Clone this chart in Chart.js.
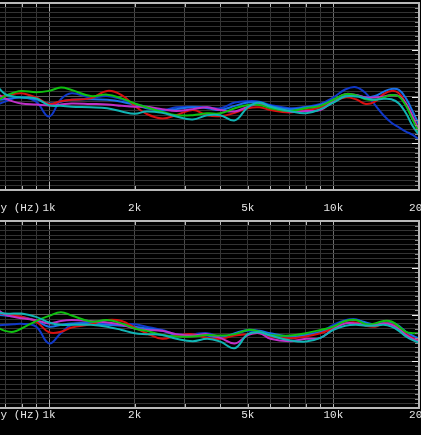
<!DOCTYPE html>
<html>
<head>
<meta charset="utf-8">
<script src="https://cdn.jsdelivr.net/npm/chart.js@4.4.0/dist/chart.umd.min.js"></script>
<style>
html, body { margin: 0; padding: 0; background: #000; width: 421px; height: 435px; overflow: hidden; }
.panel { position: absolute; left: -30px; width: 470px; }
#topPanel { top: 0; height: 235px; }
#bottomPanel { top: 218px; height: 217px; }
</style>
</head>
<body>
<div class="panel" id="topPanel"><canvas id="topChart"></canvas></div>
<div class="panel" id="bottomPanel"><canvas id="bottomChart"></canvas></div>
<script>
// =========================
// Data (dB, relative)
// =========================
const freqs = [650, 700, 750, 800, 900, 1000, 1100, 1200, 1400, 1600, 1800, 2000, 2200, 2500, 2800, 3200, 3600,
    4000, 4500, 5000, 5500, 6000, 7000, 8000, 9000, 10000, 11000, 12000, 13000, 14000, 15000, 16000, 17000, 18000, 19000, 20000];

const gridFreqs = [600, 700, 800, 900, 1000, 2000, 3000, 4000, 5000, 6000, 7000, 8000, 9000, 10000, 20000];
const tickLabels = { 1000: '1k', 2000: '2k', 5000: '5k', 10000: '10k', 20000: '20k' };
const axisTitle = 'Frequency (Hz)';

const topGreen   = [-1.1, 0.1, 0.8, 1.2, 0.9, 1.2, 1.9, 1.4, 0.1, 0.4, -0.4, -1.5, -2.3, -3.3, -4.0, -4.0, -3.6, -3.6, -2.5, -1.8, -1.8, -2.5, -3.1, -2.5, -2.0, -0.7, 0.5, 0.3, -0.6, -0.7, -0.2, 0.3, 0.0, -2.0, -5.0, -7.7];
const topRed     = [-0.4, 0.2, 0.5, 0.7, -0.2, -1.6, -1.0, -0.7, -0.4, 1.2, 0.3, -2.0, -3.7, -4.7, -4.0, -2.9, -4.0, -4.2, -3.5, -2.5, -2.3, -2.9, -3.4, -2.9, -2.3, -1.1, -0.2, -0.6, -1.6, -1.1, 0.5, 1.2, 0.7, -1.5, -4.3, -7.2];
const topBlue    = [-1.8, -1.1, -0.4, -0.1, -1.1, -4.3, -0.6, 0.7, -0.2, 0.1, -0.6, -1.6, -2.2, -2.9, -2.3, -2.2, -2.3, -2.5, -1.3, -1.0, -1.1, -1.8, -2.5, -2.2, -1.6, -0.2, 1.5, 2.0, 0.7, -1.8, -4.0, -5.6, -6.6, -7.5, -8.2, -9.2];
const topBlue2   = [-0.7, -0.6, -0.3, -0.2, -0.6, -1.5, -1.1, -0.7, -0.6, -0.7, -1.1, -1.8, -2.5, -3.0, -2.7, -2.3, -2.5, -2.9, -2.0, -1.3, -1.3, -2.0, -2.7, -2.3, -1.8, -0.7, 0.3, 0.3, -0.2, 0.1, 1.0, 1.6, 1.4, -0.4, -3.2, -6.1];
const topMagenta = [0.7, -0.4, -1.1, -1.5, -1.7, -1.9, -1.7, -1.5, -1.6, -1.7, -2.0, -2.2, -2.2, -2.7, -3.1, -2.7, -2.3, -2.9, -3.2, -2.2, -1.6, -2.3, -3.2, -3.1, -2.9, -0.9, 0.5, 0.3, -0.2, -0.2, 0.0, 0.3, 0.1, -1.5, -4.3, -7.5];
const topCyan    = [2.5, 0.5, 0.0, -0.2, -0.4, -1.9, -2.0, -2.2, -2.3, -2.5, -3.2, -3.7, -3.2, -3.5, -4.3, -4.9, -4.0, -4.0, -5.1, -2.3, -1.3, -2.2, -3.1, -3.6, -2.7, -1.3, 0.0, 0.0, -0.4, -0.7, -0.5, -0.6, -1.5, -3.6, -6.3, -8.2];

const bottomGreen   = [-2.6, -3.5, -3.7, -3.0, -1.4, -0.3, 0.5, -0.2, -1.5, -1.2, -1.9, -3.0, -3.5, -4.4, -4.7, -4.7, -4.4, -4.5, -4.2, -3.3, -3.7, -4.4, -4.5, -4.0, -3.3, -2.6, -1.4, -1.2, -2.1, -1.9, -1.4, -1.5, -2.6, -3.7, -4.0, -4.0];
const bottomRed     = [0.5, 0.0, -0.2, -0.5, -1.5, -3.8, -3.7, -2.8, -2.1, -1.2, -1.4, -2.8, -4.0, -5.2, -4.5, -4.2, -5.0, -5.2, -4.5, -4.2, -4.0, -4.7, -5.1, -4.7, -4.0, -3.0, -1.9, -1.7, -2.4, -2.6, -1.9, -2.1, -3.0, -4.2, -5.0, -5.5];
const bottomBlue    = [-2.4, -2.2, -2.1, -2.0, -2.6, -6.2, -4.0, -2.2, -1.7, -2.1, -2.1, -2.1, -2.6, -3.3, -4.2, -4.2, -4.0, -4.7, -4.2, -3.5, -3.7, -4.2, -5.0, -4.2, -3.7, -2.2, -1.2, -1.0, -1.9, -2.1, -1.7, -1.9, -2.8, -3.8, -4.7, -5.1];
const bottomBlue2   = [-0.1, -0.2, -0.4, -0.5, -1.4, -2.6, -2.2, -1.9, -1.9, -2.2, -2.4, -2.6, -3.0, -3.5, -4.4, -4.5, -4.5, -5.0, -4.0, -3.3, -3.5, -4.0, -4.7, -4.4, -3.8, -2.6, -1.4, -1.2, -1.7, -2.2, -1.9, -1.7, -2.4, -3.7, -4.5, -5.2];
const bottomMagenta = [1.3, 0.0, -0.5, -0.8, -1.2, -1.9, -1.4, -1.2, -1.4, -1.7, -2.2, -3.0, -3.3, -3.5, -4.2, -4.5, -4.2, -5.0, -6.2, -4.4, -4.0, -5.2, -5.7, -5.2, -5.0, -3.1, -1.9, -1.9, -2.2, -2.2, -1.9, -2.2, -3.1, -4.4, -5.2, -5.7];
const bottomCyan    = [0.6, 0.2, 0.2, 0.2, -0.5, -1.7, -2.2, -2.2, -2.2, -2.6, -3.3, -4.0, -4.2, -4.4, -5.2, -5.7, -5.2, -5.8, -7.2, -4.2, -3.8, -4.5, -5.5, -5.8, -5.0, -3.3, -2.4, -2.2, -2.4, -2.4, -2.2, -2.6, -3.5, -4.7, -5.5, -6.0];

const yMin = -20, yMax = 20;

// =========================
// Helpers
// =========================
const colors = { cyan: '#10b4b4', green: '#10c010', magenta: '#c030c8', red: '#d81010', blue2: '#1870e8', blue: '#1038c8' };

function series(vals, color) {
    return {
        data: freqs.map((f, i) => ({ x: f, y: vals[i] })),
        borderColor: color,
        borderWidth: 2,
        pointRadius: 0,
        tension: 0.4,
        fill: false
    };
}

function xGridColor(ctx) {
    const v = ctx.tick && ctx.tick.value;
    if (v === 1000 || v === 10000) return '#6a6a6a';
    if (v === 2000 || v === 3000) return '#4a4a4a';
    return '#343434';
}

function yGridColor(ctx) {
    const v = ctx.tick && ctx.tick.value;
    if (v === 10 || v === -10 || v === 0) return '#606060';
    return '#333333';
}

// Frame, inner ticks and axis title
const framePlugin = {
    id: 'frame',
    afterDatasetsDraw(chart) {
        const { ctx, chartArea: a, scales: { x, y } } = chart;
        ctx.save();
        ctx.lineWidth = 1;
        ctx.strokeStyle = '#b8b8b8';
        gridFreqs.forEach(f => {
            const px = Math.round(x.getPixelForValue(f)) + 0.5;
            const len = f === 1000 ? 8 : 4;
            ctx.beginPath();
            ctx.moveTo(px, a.top); ctx.lineTo(px, a.top + len);
            ctx.moveTo(px, a.bottom); ctx.lineTo(px, a.bottom - len);
            ctx.stroke();
        });
        for (let v = yMin; v <= yMax; v++) {
            const py = Math.round(y.getPixelForValue(v)) + 0.5;
            const major = v % 10 === 0;
            ctx.strokeStyle = major ? '#f0f0f0' : '#8c8c8c';
            ctx.beginPath();
            ctx.moveTo(a.right, py); ctx.lineTo(a.right - (major ? 7 : 4), py);
            ctx.stroke();
        }
        ctx.strokeStyle = '#b8b8b8';
        ctx.lineWidth = 2;
        ctx.beginPath();
        ctx.moveTo(a.left, a.top); ctx.lineTo(a.right, a.top);
        ctx.lineTo(a.right, a.bottom); ctx.lineTo(a.left, a.bottom);
        ctx.stroke();

        const t = x.options.ticks;
        ctx.fillStyle = '#e6e6e6';
        ctx.font = t.font.size + 'px "Liberation Mono", monospace';
        ctx.textAlign = 'right';
        ctx.textBaseline = 'middle';
        ctx.fillText(axisTitle, x.getPixelForValue(1000) - 9, x.top + t.padding + t.font.size * 0.6);
        ctx.restore();
    }
};

function makeChart(id, sets, tickPad, padBottom) {
    return new Chart(document.getElementById(id), {
        type: 'line',
        data: {
            datasets: [
                series(sets[0], colors.cyan),
                series(sets[1], colors.green),
                series(sets[2], colors.magenta),
                series(sets[3], colors.red),
                series(sets[4], colors.blue2),
                series(sets[5], colors.blue)
            ]
        },
        options: {
            responsive: true,
            maintainAspectRatio: false,
            animation: false,
            layout: { padding: { left: 16, right: 21, top: 3, bottom: padBottom } },
            plugins: { legend: { display: false }, tooltip: { enabled: false } },
            scales: {
                x: {
                    type: 'logarithmic',
                    min: 600,
                    max: 20000,
                    afterBuildTicks: s => { s.ticks = gridFreqs.map(v => ({ value: v })); },
                    border: { display: false },
                    grid: { color: xGridColor, drawTicks: false, lineWidth: 1 },
                    ticks: {
                        autoSkip: false,
                        maxRotation: 0,
                        padding: tickPad,
                        color: '#e6e6e6',
                        font: { family: '"Liberation Mono", monospace', size: 11 },
                        callback: v => tickLabels[v] || ''
                    }
                },
                y: {
                    min: yMin,
                    max: yMax,
                    border: { display: false },
                    grid: { color: yGridColor, drawTicks: false, lineWidth: 1 },
                    ticks: { display: false, stepSize: 1 }
                }
            }
        },
        plugins: [framePlugin]
    });
}

makeChart('topChart', [topCyan, topGreen, topMagenta, topRed, topBlue2, topBlue], 11, 9.8);
makeChart('bottomChart', [bottomCyan, bottomGreen, bottomMagenta, bottomRed, bottomBlue2, bottomBlue], 0, 13.8);
</script>
</body>
</html>
